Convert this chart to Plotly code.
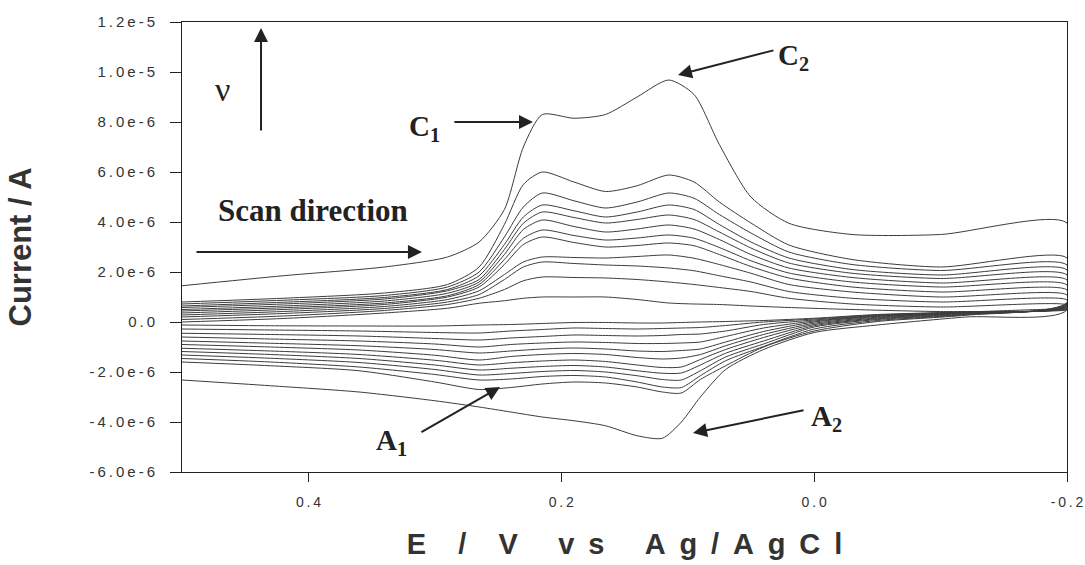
import plotly.graph_objects as go

# Potential grids (V vs Ag/AgCl)
E_fwd = [0.50, 0.42, 0.34, 0.29, 0.265, 0.245, 0.23, 0.215, 0.19, 0.165, 0.14, 0.115,
         0.095, 0.075, 0.05, 0.02, -0.03, -0.10, -0.20]
E_rev = [-0.20, -0.12, -0.05, 0.00, 0.04, 0.07, 0.09, 0.105, 0.12, 0.14, 0.165, 0.19,
         0.215, 0.24, 0.265, 0.30, 0.36, 0.43, 0.50]

# Forward (cathodic) currents, microamps, smallest scan rate first
fwd_01 = [0.00, 0.14, 0.36, 0.55, 0.75, 0.85, 0.95, 1.00, 1.00, 1.00, 0.90, 0.76, 0.72, 0.70, 0.64, 0.58, 0.50, 0.42, 0.48]
fwd_02 = [0.10, 0.24, 0.46, 0.70, 0.95, 1.30, 1.65, 1.80, 1.78, 1.76, 1.70, 1.60, 1.50, 1.38, 1.22, 0.95, 0.72, 0.60, 0.68]
fwd_03 = [0.20, 0.34, 0.54, 0.80, 1.10, 1.70, 2.20, 2.40, 2.34, 2.28, 2.24, 2.16, 2.05, 1.85, 1.60, 1.22, 0.95, 0.80, 0.88]
fwd_04 = [0.28, 0.42, 0.62, 0.90, 1.25, 1.90, 2.40, 2.60, 2.58, 2.56, 2.62, 2.68, 2.55, 2.30, 1.95, 1.50, 1.20, 1.00, 1.08]
fwd_05 = [0.36, 0.50, 0.70, 1.00, 1.40, 2.30, 3.10, 3.40, 3.18, 3.00, 3.06, 3.16, 3.05, 2.70, 2.22, 1.76, 1.40, 1.20, 1.28]
fwd_06 = [0.44, 0.57, 0.76, 1.05, 1.50, 2.50, 3.35, 3.68, 3.46, 3.28, 3.36, 3.48, 3.35, 2.98, 2.45, 1.96, 1.60, 1.40, 1.48]
fwd_07 = [0.50, 0.64, 0.84, 1.15, 1.60, 2.70, 3.70, 4.08, 3.82, 3.60, 3.72, 3.88, 3.72, 3.30, 2.70, 2.16, 1.78, 1.56, 1.68]
fwd_08 = [0.58, 0.72, 0.92, 1.25, 1.70, 2.90, 3.95, 4.40, 4.18, 3.96, 4.10, 4.28, 4.10, 3.60, 2.96, 2.36, 1.95, 1.74, 1.88]
fwd_09 = [0.64, 0.79, 0.98, 1.30, 1.85, 3.10, 4.20, 4.68, 4.45, 4.20, 4.40, 4.68, 4.50, 3.90, 3.20, 2.56, 2.10, 1.88, 2.08]
fwd_10 = [0.72, 0.87, 1.06, 1.40, 2.00, 3.40, 4.60, 5.16, 4.85, 4.56, 4.80, 5.16, 4.95, 4.30, 3.56, 2.80, 2.30, 2.06, 2.28]
fwd_11 = [0.80, 0.95, 1.16, 1.50, 2.20, 3.90, 5.50, 6.00, 5.60, 5.22, 5.45, 5.88, 5.60, 4.80, 3.96, 3.08, 2.50, 2.20, 2.56]
fwd_12 = [1.45, 1.85, 2.20, 2.60, 3.20, 4.50, 7.00, 8.30, 8.15, 8.30, 9.00, 9.68, 9.10, 7.10, 5.00, 3.95, 3.50, 3.50, 3.96]

# Reverse (anodic) currents, microamps
rev_01 = [0.50, 0.40, 0.30, 0.15, 0.06, 0.02, 0.00, -0.02, -0.04, -0.04, -0.02, -0.02, -0.06, -0.10, -0.12, -0.16, -0.16, -0.15, -0.12]
rev_02 = [0.54, 0.40, 0.28, 0.12, 0.00, -0.14, -0.22, -0.24, -0.26, -0.28, -0.26, -0.24, -0.30, -0.36, -0.44, -0.42, -0.36, -0.32, -0.28]
rev_03 = [0.57, 0.39, 0.26, 0.08, -0.10, -0.36, -0.48, -0.50, -0.54, -0.56, -0.54, -0.52, -0.58, -0.64, -0.72, -0.66, -0.56, -0.50, -0.45]
rev_04 = [0.60, 0.38, 0.24, 0.04, -0.24, -0.58, -0.80, -0.84, -0.86, -0.86, -0.82, -0.80, -0.84, -0.90, -1.00, -0.88, -0.76, -0.68, -0.60]
rev_05 = [0.62, 0.37, 0.22, 0.00, -0.38, -0.80, -1.08, -1.14, -1.18, -1.16, -1.08, -1.04, -1.08, -1.16, -1.24, -1.10, -0.95, -0.85, -0.76]
rev_06 = [0.65, 0.36, 0.19, -0.05, -0.50, -0.95, -1.30, -1.44, -1.48, -1.42, -1.30, -1.26, -1.30, -1.38, -1.52, -1.33, -1.12, -1.00, -0.90]
rev_07 = [0.68, 0.35, 0.16, -0.10, -0.62, -1.10, -1.50, -1.80, -1.82, -1.72, -1.58, -1.52, -1.56, -1.63, -1.72, -1.53, -1.30, -1.16, -1.05]
rev_08 = [0.70, 0.33, 0.13, -0.15, -0.76, -1.25, -1.72, -2.04, -2.05, -1.95, -1.80, -1.74, -1.78, -1.85, -1.92, -1.72, -1.46, -1.30, -1.18]
rev_09 = [0.72, 0.31, 0.10, -0.20, -0.88, -1.40, -1.95, -2.32, -2.30, -2.15, -2.00, -1.94, -1.98, -2.06, -2.12, -1.90, -1.62, -1.45, -1.32]
rev_10 = [0.75, 0.29, 0.06, -0.28, -0.98, -1.55, -2.15, -2.62, -2.60, -2.40, -2.20, -2.14, -2.18, -2.28, -2.32, -2.10, -1.80, -1.60, -1.46]
rev_11 = [0.78, 0.27, 0.02, -0.36, -1.00, -1.75, -2.30, -2.84, -2.80, -2.60, -2.44, -2.40, -2.48, -2.62, -2.70, -2.40, -1.95, -1.75, -1.60]
rev_12 = [0.48, 0.20, -0.12, -0.42, -1.10, -1.90, -3.00, -4.00, -4.65, -4.55, -4.15, -3.95, -3.80, -3.60, -3.40, -3.15, -2.80, -2.55, -2.32]

forward_sets = [fwd_01, fwd_02, fwd_03, fwd_04, fwd_05, fwd_06, fwd_07, fwd_08, fwd_09, fwd_10, fwd_11, fwd_12]
reverse_sets = [rev_01, rev_02, rev_03, rev_04, rev_05, rev_06, rev_07, rev_08, rev_09, rev_10, rev_11, rev_12]

x_tick_vals = [0.4, 0.2, 0.0, -0.2]
x_tick_text = ["0.4", "0.2", "0.0", "-0.2"]
y_tick_vals = [-6e-6, -4e-6, -2e-6, 0.0, 2e-6, 4e-6, 6e-6, 8e-6, 1e-5, 1.2e-5]
y_tick_text = ["-6.0e-6", "-4.0e-6", "-2.0e-6", "0.0", "2.0e-6", "4.0e-6", "6.0e-6", "8.0e-6", "1.0e-5", "1.2e-5"]

UA = 1e-6
LINE = "#3c3c3c"
INK = "#222222"
NB = "\u00a0"
TH = "\u2009"


def spaced(s):
    return TH.join(s)


fig = go.Figure()
for f, r in zip(forward_sets, reverse_sets):
    xs = E_fwd + E_rev
    ys = [v * UA for v in f] + [v * UA for v in r]
    fig.add_trace(go.Scatter(x=xs, y=ys, mode="lines",
                             line=dict(color=LINE, width=1, shape="spline", smoothing=0.7),
                             showlegend=False, hoverinfo="skip"))

serif = "Liberation Serif"
ann = []
# arrows (head at x,y ; tail at ax,ay)
arrows = [
    (0.4375, 11.76e-6, 0.4375, 7.6e-6),     # nu arrow (up)
    (0.2224, 8.0e-6, 0.2857, 8.0e-6),       # C1
    (0.1077, 9.88e-6, 0.031, 10.88e-6),     # C2
    (0.3102, 2.8e-6, 0.4897, 2.8e-6),       # scan direction
    (0.2485, -2.6e-6, 0.3118, -4.44e-6),    # A1
    (0.0958, -4.44e-6, 0.0072, -3.52e-6),   # A2
]
for x, y, ax, ay in arrows:
    ann.append(dict(x=x, y=y, ax=ax, ay=ay, xref="x", yref="y", axref="x", ayref="y",
                    text="", showarrow=True, arrowhead=2, arrowsize=1.4, arrowwidth=2,
                    arrowcolor=INK))
texts = [
    (0.4676, 9.3e-6, "ν", 34),
    (0.308, 7.76e-6, "<b>C<sub>1</sub></b>", 29),
    (0.016, 10.6e-6, "<b>C<sub>2</sub></b>", 29),
    (0.396, 4.48e-6, "<b>Scan direction</b>", 31),
    (0.334, -4.8e-6, "<b>A<sub>1</sub></b>", 29),
    (-0.010, -3.84e-6, "<b>A<sub>2</sub></b>", 29),
]
for x, y, t, s in texts:
    ann.append(dict(x=x, y=y, xref="x", yref="y", text=t, showarrow=False,
                    font=dict(family=serif, size=s, color=INK)))

LG = NB + TH
xtitle = (NB * 4).join(["E", "/", "V"]) + NB * 5 + LG.join("vs") + NB * 5 + LG.join("Ag/AgCl")

fig.update_layout(
    width=1085, height=565,
    margin=dict(l=182, r=18, t=22, b=93),
    paper_bgcolor="white", plot_bgcolor="white",
    annotations=ann,
    xaxis=dict(range=[0.5, -0.2], showgrid=False, zeroline=False, automargin=False,
               showline=True, linecolor="#222", linewidth=1, mirror=True,
               ticks="outside", ticklen=9, tickcolor="#222", ticklabelstandoff=8,
               tickvals=x_tick_vals, ticktext=[spaced(t) for t in x_tick_text],
               tickfont=dict(family="Liberation Sans", size=14, color="#333"),
               title=dict(text="<b>" + xtitle + "</b>",
                          font=dict(family="Liberation Sans", size=29, color="#333"),
                          standoff=24)),
    yaxis=dict(range=[-6e-6, 1.2e-5], showgrid=False, zeroline=False, automargin=False,
               showline=True, linecolor="#222", linewidth=1, mirror=True,
               ticks="outside", ticklen=11, tickcolor="#222", ticklabelstandoff=12,
               tickvals=y_tick_vals, ticktext=[spaced(t) for t in y_tick_text],
               tickfont=dict(family="Liberation Sans", size=15, color="#333"),
               title=dict(text="<b>Current / A</b>",
                          font=dict(family="Liberation Sans", size=31, color="#333"),
                          standoff=48)),
)

fig.write_html("out.html", config={"displayModeBar": False, "staticPlot": True})

# remove the browser's default page margin so the figure sits at the window origin
with open("out.html", encoding="utf-8") as fh:
    page = fh.read()
page = page.replace("<body>", '<body style="margin:0;overflow:hidden">', 1)
with open("out.html", "w", encoding="utf-8") as fh:
    fh.write(page)
